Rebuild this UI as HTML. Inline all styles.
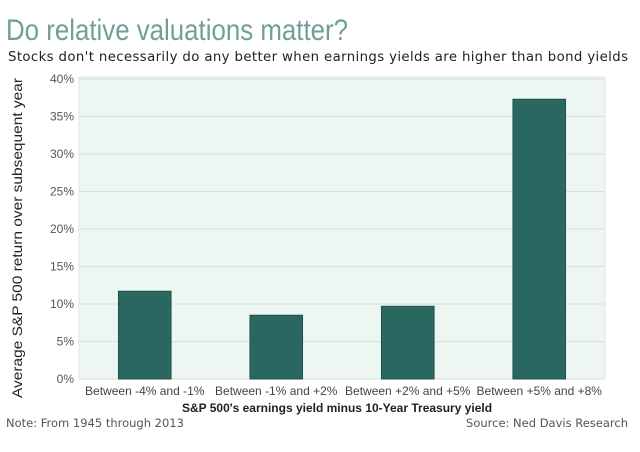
<!DOCTYPE html>
<html><head><meta charset="utf-8"><style>
body{margin:0;background:#fff;width:640px;height:447px;overflow:hidden;font-family:"Liberation Sans",sans-serif}
</style></head><body>
<svg width="640" height="447">
<text x="6" y="40" font-size="30" fill="#6e9f98" textLength="342" lengthAdjust="spacingAndGlyphs">Do relative valuations matter?</text>
<text x="8" y="61" font-size="13.3" fill="#222" font-family="DejaVu Sans" textLength="620">Stocks don't necessarily do any better when earnings yields are higher than bond yields</text>
<g id="plot"></g>
<text transform="translate(22,238) rotate(-90)" text-anchor="middle" font-size="14" fill="#222" textLength="320" lengthAdjust="spacingAndGlyphs">Average S&amp;P 500 return over subsequent year</text>
<text x="337" y="412" text-anchor="middle" font-size="12" font-weight="bold" fill="#222">S&amp;P 500's earnings yield minus 10-Year Treasury yield</text>
<text x="6" y="427" font-size="11.5" fill="#555" font-family="DejaVu Sans">Note: From 1945 through 2013</text>
<text x="628" y="427" text-anchor="end" font-size="11.5" fill="#555" font-family="DejaVu Sans">Source: Ned Davis Research</text>
</svg>
<script>
const categories=["Between -4% and -1%","Between -1% and +2%","Between +2% and +5%","Between +5% and +8%"];
const values=[11.7,8.5,9.7,37.3];
const ticks=[0,5,10,15,20,25,30,35,40];
const L=79,R=605,T=79,B=379,ymax=40;
const ns="http://www.w3.org/2000/svg";
const g=document.getElementById('plot');
const y=v=>B-(v/ymax)*(B-T);
const slot=(R-L)/categories.length;
const x=i=>L+slot*(i+0.5);
function mk(t,a){const e=document.createElementNS(ns,t);for(const k in a)e.setAttribute(k,a[k]);g.appendChild(e);return e;}
const bg=mk('rect',{x:L,y:T-2,width:R-L,height:B-T+2,fill:'#eef6f2',stroke:'#dde8e3'});


ticks.forEach(t=>{
 const ln=mk('line',{x1:L,x2:R,y1:y(t),y2:y(t),stroke:'#d6e2dc','stroke-width':1});
 
 
 const tx=mk('text',{x:L-5,y:y(t)+4,'text-anchor':'end','font-size':12,fill:'#555'});
 tx.textContent=t+'%';
 
 
});
categories.forEach((c,i)=>{
 const w=slot*0.4;
 const r=mk('rect',{x:x(i)-w/2,y:y(values[i]),width:w,height:B-y(values[i]),fill:'#2b6761',stroke:'#1f534e'});
 
 
 const tx=mk('text',{x:x(i),y:395,'text-anchor':'middle','font-size':12,fill:'#444'});
 tx.textContent=c;
 
 
});
</script>
</body></html>
